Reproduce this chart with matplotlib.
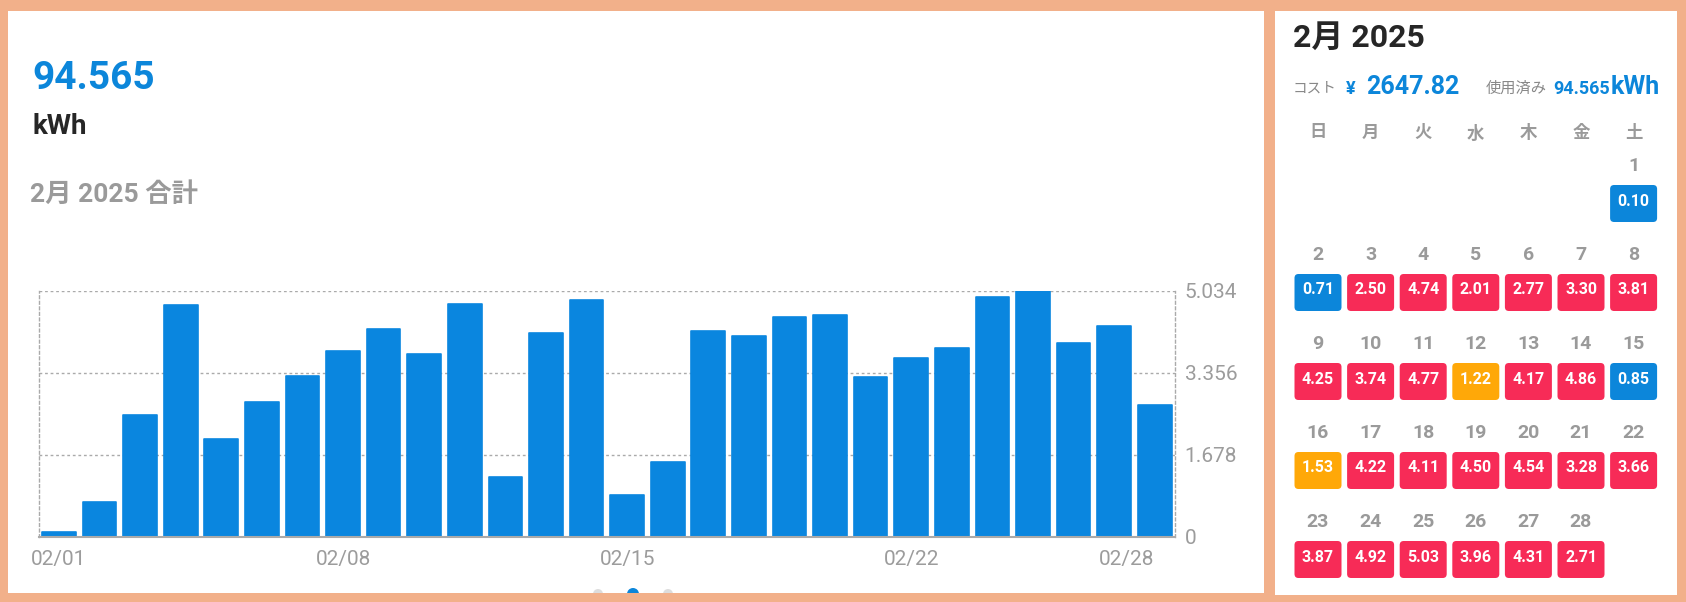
"""
Daily electricity usage for February 2025: bar chart plus calendar panel.
"""
import matplotlib
matplotlib.use("Agg")
import matplotlib.pyplot as plt
from matplotlib.patches import Rectangle, FancyBboxPatch, Circle

FONT = ["Roboto", "Noto Sans CJK JP", "DejaVu Sans"]
plt.rcParams["font.family"] = FONT

# --- data ---
days = list(range(1, 29))
usage_kwh = [0.10, 0.71, 2.50, 4.74, 2.01, 2.77, 3.30, 3.81, 4.25, 3.74,
             4.77, 1.22, 4.17, 4.86, 0.85, 1.53, 4.22, 4.11, 4.50, 4.54,
             3.28, 3.66, 3.87, 4.92, 5.03, 3.96, 4.31, 2.71]
x_tick_pos = [0, 7, 14, 21, 27]
x_tick_labels = ["02/01", "02/08", "02/15", "02/22", "02/28"]
y_ticks = [0, 1.678, 3.356, 5.034]
y_tick_labels = ["0", "1.678", "3.356", "5.034"]
weekdays = ["日", "月", "火", "水", "木", "金", "土"]
first_weekday = 6  # Feb 1 2025 is a Saturday

total_kwh = "94.565"
cost = "2647.82"
month_title = "2月 2025"

BAR_BLUE = "#0A86DF"
BLUE = "#0C86DA"
RED = "#F72B57"
ORANGE = "#FFA808"
BORDER = "#F2B08A"
GREY = "#9A9A9A"
DARK = "#262626"


def cell_color(v):
    if v < 1.0:
        return BLUE
    if v < 2.0:
        return ORANGE
    return RED


fig = plt.figure(figsize=(16.86, 6.02), dpi=100)
fig.patch.set_facecolor(BORDER)

# background axes in pixel coordinates
bg = fig.add_axes([0, 0, 1, 1])
bg.set_xlim(0, 1686)
bg.set_ylim(602, 0)
bg.axis("off")

left_panel = Rectangle((8, 11), 1256, 582, facecolor="white", edgecolor="none")
right_panel = Rectangle((1275, 11), 402, 584, facecolor="white", edgecolor="none")
bg.add_patch(left_panel)
bg.add_patch(right_panel)

# left header
bg.text(32, 89, total_kwh, color=BLUE, fontsize=28, fontweight="bold", va="baseline")
bg.text(33, 134, "kWh", color=DARK, fontsize=20, fontweight="bold", va="baseline")
bg.text(30, 202, f"{month_title} 合計", color=GREY, fontsize=19, fontweight="bold",
        va="baseline")

# page indicator dots
for cx, col, r in [(598, "#DDDDDD", 5), (633, BLUE, 6), (668, "#DDDDDD", 5)]:
    dot = Circle((cx, 594), r, facecolor=col, edgecolor="none")
    bg.add_patch(dot)
    dot.set_clip_path(left_panel)

# --- bar chart ---
ax = fig.add_axes([38.7 / 1686, (602 - 537) / 602, (1175 - 38.7) / 1686, (537 - 291) / 602])
ax.patch.set_alpha(0)
ax.bar(range(len(usage_kwh)), usage_kwh, width=0.83, color=BAR_BLUE,
       edgecolor=BAR_BLUE, linewidth=1.2, joinstyle="round", zorder=3)
ax.set_xlim(-0.5, len(usage_kwh) - 0.5)
ax.set_ylim(0, 5.034)
ax.set_axisbelow(True)
ax.yaxis.grid(True, linestyle=(0, (2, 2)), color="#AAAAAA", linewidth=1)
ax.spines["top"].set_visible(False)
for side in ["left", "right"]:
    ax.spines[side].set_linestyle((0, (2, 2)))
    ax.spines[side].set_color("#AAAAAA")
    ax.spines[side].set_linewidth(1)
ax.spines["bottom"].set_color("#AAAAAA")
ax.spines["bottom"].set_linewidth(1.5)
ax.spines["bottom"].set_zorder(4)

ax.yaxis.tick_right()
ax.set_yticks(y_ticks)
ax.set_yticklabels(y_tick_labels)
ax.set_xticks(x_tick_pos)
ax.set_xticklabels(x_tick_labels)
ax.tick_params(axis="y", length=0, pad=7, labelsize=15, labelcolor="#9C9C9C")
ax.tick_params(axis="x", length=0, pad=9, labelsize=15, labelcolor="#9C9C9C")
for lbl in ax.get_xticklabels() + ax.get_yticklabels():
    lbl.set_fontweight("normal")
    lbl.set_family(FONT)
ax.get_xticklabels()[-1].set_ha("right")

# --- calendar panel ---
bg.text(1293, 47, month_title, color=DARK, fontsize=23, fontweight="bold", va="baseline")
bg.text(1293, 93, "コスト", color="#888888", fontsize=10.5, va="baseline")
bg.text(1346, 94, "¥", color=BLUE, fontsize=13, fontweight="bold", va="baseline")
bg.text(1366, 94, cost, color=BLUE, fontsize=18, fontweight="bold", va="baseline")
bg.text(1486, 93, "使用済み", color="#888888", fontsize=11, va="baseline")
bg.text(1553, 94, total_kwh, color=BLUE, fontsize=13, fontweight="bold", va="baseline")
bg.text(1611, 94, "kWh", color=BLUE, fontsize=18, fontweight="bold", va="baseline")

col_x0, col_dx = 1318, 52.6
for i, wd in enumerate(weekdays):
    bg.text(col_x0 + i * col_dx, 133, wd, color=GREY, fontsize=12.5, fontweight="bold",
            ha="center", va="center")

box_w, box_h, rad = 47, 37, 4
for d, v in zip(days, usage_kwh):
    slot = d - 1 + first_weekday
    row, col = slot // 7, slot % 7
    cx = col_x0 + col * col_dx
    num_y = 166 + row * 89
    top = 185 + row * 89
    bg.text(cx, num_y, str(d), color=GREY, fontsize=14, fontweight="bold",
            ha="center", va="center")
    box = FancyBboxPatch((cx - box_w / 2 + rad, top + rad), box_w - 2 * rad, box_h - 2 * rad,
                         boxstyle=f"round,pad={rad}", facecolor=cell_color(v), edgecolor="none")
    bg.add_patch(box)
    bg.text(cx, top + 16, f"{v:.2f}", color="white", fontsize=11.5, fontweight="bold",
            ha="center", va="center")

fig.savefig("out.png", dpi=100, facecolor=fig.get_facecolor())
